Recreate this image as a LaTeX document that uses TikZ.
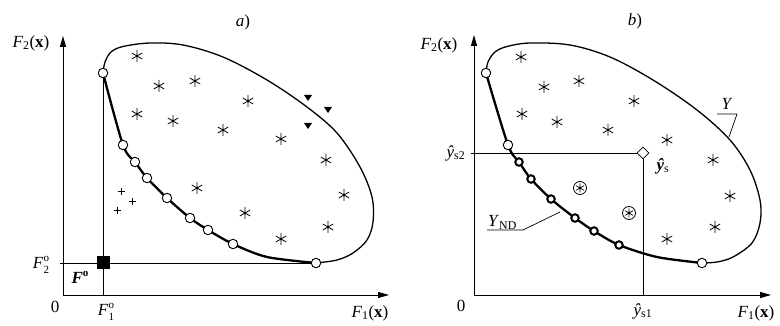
\documentclass[tikz,border=0pt]{standalone}
\usepackage{fontspec}
\setmainfont{Liberation Serif}
\usetikzlibrary{arrows.meta,shapes.geometric}
\newcommand\subsup[2]{\rlap{\raisebox{-4.5pt}{\fontsize{11}{11}\selectfont #1}}\raisebox{7pt}{\fontsize{11}{11}\selectfont #2}}
\tikzset{
  x=1pt, y=-1pt,
  lbl/.style={inner sep=0pt, font=\fontsize{17}{20}\selectfont},
  axis/.style={line width=0.9pt, -{Triangle[length=11pt,width=6pt]}},
  guide/.style={line width=0.7pt},
  outer/.style={line width=1.3pt},
  pareto/.style={line width=2.3pt},
  opt/.style={circle, draw, fill=white, line width=0.9pt, minimum size=9.5pt, inner sep=0pt},
  bopt/.style={circle, draw, fill=white, line width=2pt, minimum size=7.5pt, inner sep=0pt},
  ast/.pic={\draw[line width=0.8pt] (-90:6)--(90:6) (-30:6)--(150:6) (30:6)--(210:6); \fill (0,0) circle (1.3pt);},
  cast/.pic={\draw[line width=0.8pt] (0,0) circle (6.5pt); \draw[line width=0.7pt] (-90:4.5)--(90:4.5) (-30:4.5)--(150:4.5) (30:4.5)--(210:4.5); \fill (0,0) circle (1.3pt);},
  tri/.pic={\fill (-4,-3)--(4,-3)--(0,3)--cycle;},
  pls/.pic={\draw[line width=1pt] (-3.5,0)--(3.5,0) (0,-3.5)--(0,3.5);},
}
\begin{document}
\begin{tikzpicture}
\useasboundingbox (0,0) rectangle (780,326);
% ================= panel a =================
\coordinate (Oa) at (63,295);
\coordinate (Xa) at (389,295);
\coordinate (Ya) at (63,36);
\coordinate (pa1) at (103,73);
\coordinate (pa2) at (123,145);
\coordinate (pa3) at (135,162);
\coordinate (pa4) at (147,178);
\coordinate (pa5) at (167,198);
\coordinate (pa6) at (190,218);
\coordinate (pa7) at (208,230);
\coordinate (pa8) at (233,244);
\coordinate (pa9) at (316,263);
\coordinate (va) at (103,295);
\coordinate (ha) at (60,263);
\draw[axis] (Oa) -- (Xa);
\draw[axis] (Oa) -- (Ya);
\draw[guide] (va) -- (pa1);
\draw[guide] (ha) -- (pa9);
\draw[outer] plot[smooth, tension=0.55] coordinates {(pa1) (105,62) (111,52) (123,46.5) (150,43) (183,45) (223,57) (267,80) (307,107) (337,133) (360,167) (372,197) (373,222) (367,240) (353,253) (337,260) (pa9)};
\draw[pareto] plot[smooth, tension=0.5] coordinates {(pa1) (pa2) (pa3) (pa4) (pa5) (pa6) (pa7) (pa8) (267,257) (pa9)};
\foreach \i in {1,...,9} { \node[opt] (na\i) at (pa\i) {}; }
\node[draw, fill=black, minimum size=12pt, inner sep=0pt] (Fo) at (103,262) {};
\foreach \p in {(137,56),(159,86),(195,81),(248,101),(137,114),(173,121),(223,130),(281,139),(326,160),(344,195),(197,188),(245,213),(281,239),(328,227)} { \pic at \p {ast}; }
\foreach \p in {(308,98),(328,110),(308,126)} { \pic at \p {tri}; }
\foreach \p in {(121,192),(132,202),(117,211)} { \pic at \p {pls}; }
\node[lbl] (F2a) at (31,43) {\textit{F}\textsubscript{2}(\textbf{x})};
\node[lbl] (ta) at (243,22) {\textit{a})};
\node[lbl] (za) at (55,307) {0};
\node[lbl] (F1oa) at (106,312) {\textit{F}\subsup{1}{o}};
\node[lbl] (F2oa) at (41,265) {\textit{F}\subsup{2}{o}};
\node[lbl] (Foa) at (80,277) {\textbf{\textit{F}\raisebox{7pt}{\fontsize{11}{11}\selectfont o}}};
\node[lbl] (F1a) at (370,313) {\textit{F}\textsubscript{1}(\textbf{x})};
% ================= panel b =================
\coordinate (Ob) at (474,295);
\coordinate (Xb) at (771,295);
\coordinate (Yb) at (474,35);
\coordinate (pb1) at (486,73);
\coordinate (pb2) at (508,145);
\coordinate (pb3) at (519,162);
\coordinate (pb4) at (531,179);
\coordinate (pb5) at (551,199);
\coordinate (pb6) at (575,218);
\coordinate (pb7) at (594,231);
\coordinate (pb8) at (619,245);
\coordinate (pb9) at (702,263);
\coordinate (ds) at (643,153);
\coordinate (gs2) at (471,153);
\coordinate (gs1) at (643,295);
\draw[axis] (Ob) -- (Xb);
\draw[axis] (Ob) -- (Yb);
\draw[guide] (gs2) -- (ds) -- (gs1);
\draw[outer] plot[smooth, tension=0.55] coordinates {(pb1) (488,62) (495,52) (507,46.5) (530,43) (570,45) (610,57) (653,80) (697,110) (730,140) (750,170) (760,200) (760,223) (752,243) (733,257) (717,262) (pb9)};
\draw[pareto] plot[smooth, tension=0.5] coordinates {(pb1) (pb2) (pb3) (pb4) (pb5) (pb6) (pb7) (pb8) (657,257) (pb9)};
\foreach \i in {1,2,9} { \node[opt] (nb\i) at (pb\i) {}; }
\foreach \i in {3,...,8} { \node[bopt] (nb\i) at (pb\i) {}; }
\node[diamond, draw, fill=white, line width=0.8pt, minimum width=12pt, minimum height=12pt, inner sep=0pt] (dia) at (ds) {};
\foreach \p in {(521,57),(544,87),(579,81),(634,101),(522,114),(557,122),(608,130),(667,140),(713,160),(730,196),(715,227),(667,239)} { \pic at \p {ast}; }
\foreach \p in {(580,188),(629,213)} { \pic at \p {cast}; }
% leaders
\coordinate (ynd1) at (487,230);
\coordinate (ynd2) at (523,230);
\coordinate (ynd3) at (560,212);
\draw[guide] (ynd1) -- (ynd2) -- (ynd3);
\coordinate (yl1) at (717,114);
\coordinate (yl2) at (737,114);
\coordinate (yl3) at (729,137);
\draw[guide] (yl1) -- (yl2) -- (yl3);
\node[lbl, anchor=base west] (YND) at (488,227) {\textit{Y}\textsubscript{ND}};
\node[lbl, anchor=base] (Yl) at (727,110) {\textit{Y}};
\node[lbl] (F2b) at (439,45) {\textit{F}\textsubscript{2}(\textbf{x})};
\node[lbl] (tb) at (635,21) {\textit{b})};
\node[lbl] (zb) at (461,306) {0};
\node[lbl] (ys2) at (456,153) {\textit{ŷ}\textsubscript{s2}};
\node[lbl] (ys1) at (643,311) {\textit{ŷ}\textsubscript{s1}};
\node[lbl] (ys) at (663,166) {\textbf{\textit{ŷ}}\textsubscript{s}};
\node[lbl] (F1b) at (756,313) {\textit{F}\textsubscript{1}(\textbf{x})};
\end{tikzpicture}
\end{document}
